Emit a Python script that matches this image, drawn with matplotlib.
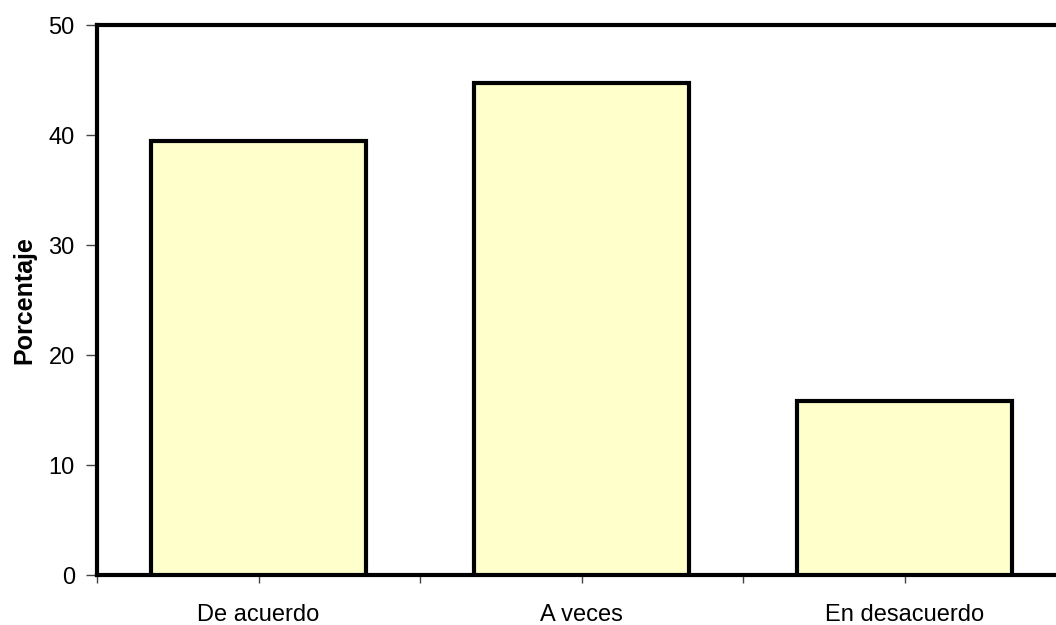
import matplotlib.pyplot as plt
from matplotlib.ticker import MultipleLocator

# datos
categorias = ['De acuerdo', 'A veces', 'En desacuerdo']
porcentajes = [39.5, 44.7, 15.8]

plt.rcParams['font.family'] = ['Liberation Sans', 'DejaVu Sans']

fig = plt.figure(figsize=(10.56, 6.25), dpi=100)
# el borde derecho queda fuera de la imagen, como en el original
ax = fig.add_axes([97/1056, 50/625, 969/1056, 550/625])

x = range(len(categorias))
ax.bar(x, porcentajes, width=0.667, color='#FFFFCC', edgecolor='black',
       linewidth=3, zorder=3)

ax.set_xlim(-0.5, 2.5)
ax.set_ylim(0, 50)
ax.set_xticks(list(x))
ax.set_xticklabels(categorias)
ax.set_xticks([-0.5, 0.5, 1.5, 2.5], minor=True)
ax.yaxis.set_major_locator(MultipleLocator(10))

for s in ax.spines.values():
    s.set_linewidth(3)

ax.tick_params(axis='x', which='both', direction='out', length=6, width=1,
               color='#444444', labelsize=17, pad=15)
ax.tick_params(axis='y', direction='out', length=8, width=1,
               color='#444444', labelsize=17, pad=8)

ax.set_ylabel('Porcentaje', fontsize=18, fontweight='bold')
ax.yaxis.set_label_coords(-0.063, 0.5)

plt.savefig('out.png', dpi=100)
